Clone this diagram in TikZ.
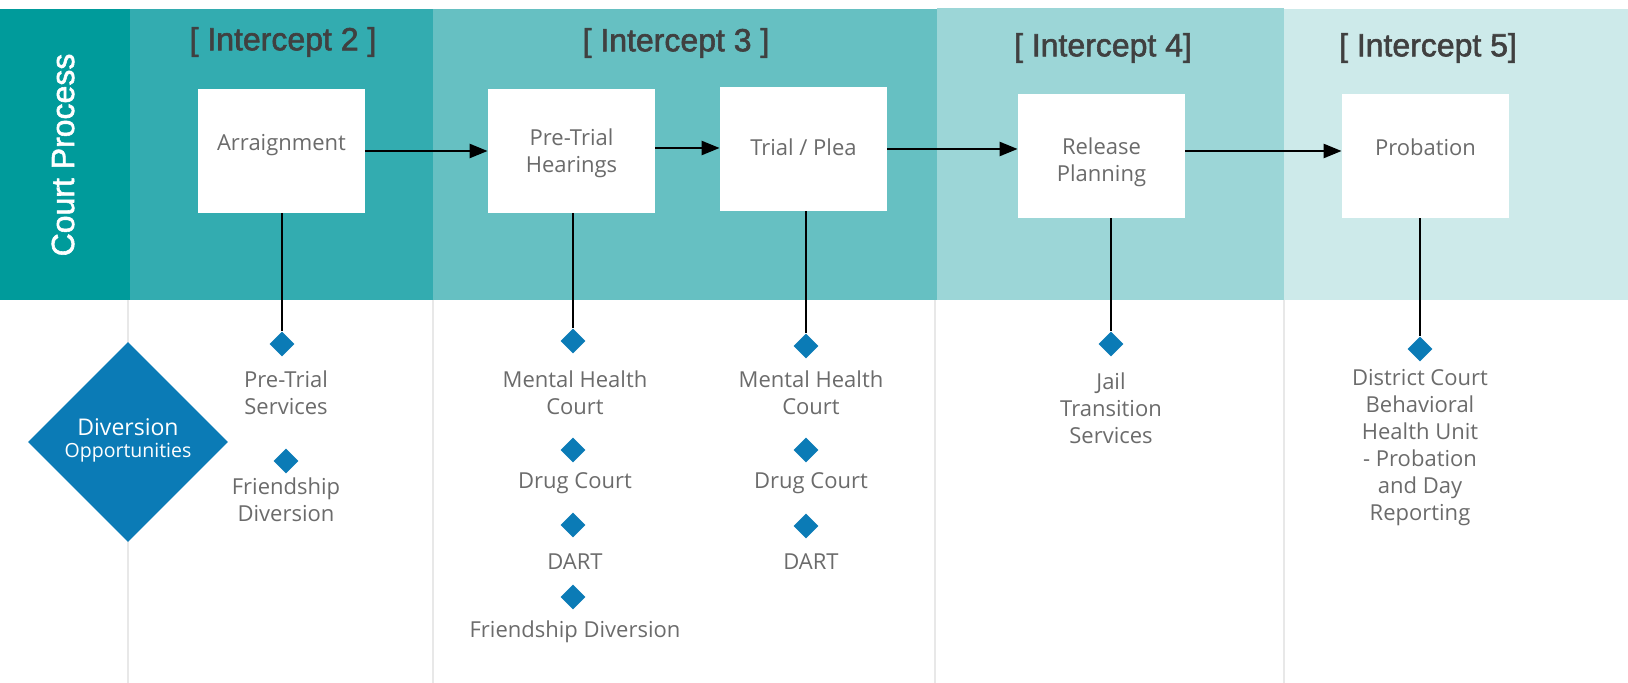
\documentclass[tikz,border=0pt]{standalone}
\usepackage{fontspec}
\setmainfont{Open Sans}
\newfontfamily\headfont[FakeBold=1.8]{Liberation Sans}
\usetikzlibrary{shapes.geometric,arrows.meta}
\def\boxlabel#1#2{\raisebox{#1}[0pt][0pt]{\begin{tabular}{@{}c@{}}#2\end{tabular}}}
\definecolor{courtteal}{HTML}{009B9B}
\definecolor{icptii}{HTML}{33ACB0}
\definecolor{icptiii}{HTML}{66C0C2}
\definecolor{icptiv}{HTML}{9CD6D7}
\definecolor{icptv}{HTML}{CDEAEA}
\definecolor{divblue}{HTML}{0B7BB6}
\definecolor{bodygrey}{HTML}{6B6B6B}
\definecolor{headgrey}{HTML}{404040}
\definecolor{rulegrey}{HTML}{E8E8E8}
\tikzset{
  stagebox/.style={fill=white, minimum width=83.5pt, minimum height=62pt, inner sep=0pt,
    align=center, text=bodygrey, font=\fontsize{11}{13.5}\selectfont},
  pointer/.style={diamond, fill=divblue, minimum width=12.5pt, minimum height=12.5pt, inner sep=0pt},
  itemtext/.style={align=center, text=bodygrey, font=\fontsize{11}{13.5}\selectfont},
  headtext/.style={text=headgrey, font=\headfont\fontsize{16}{18}\selectfont},
  flow/.style={line width=1.2pt, -{Triangle[length=9pt, width=7pt]}},
  stem/.style={line width=1.2pt},
  divider/.style={line width=1pt, rulegrey}
}
\begin{document}
\begin{tikzpicture}[x=0.5pt, y=-0.5pt]
			%%%%% START %%%%%
			\useasboundingbox (0, 0) rectangle (1628, 683);
			
			% colour bands
			\fill[courtteal] (0, 9) rectangle (130, 300);
			\fill[icptii] (130, 9) rectangle (433, 300);
			\fill[icptiii] (433, 9) rectangle (937, 300);
			\fill[icptiv] (937, 8) rectangle (1284, 300);
			\fill[icptv] (1284, 9) rectangle (1628, 300);
			
			\foreach \x in {128, 433, 935, 1284}
				\draw[divider] (\x, 300) -- (\x, 683);
			
			\node[rotate=90, text=white, font=\headfont\fontsize{16}{18}\selectfont] (court) at (63, 155) {Court Process};
			
			\node[headtext] (head2) at (283, 42) {[ Intercept 2 ]};
			\node[headtext] (head3) at (676, 43) {[ Intercept 3 ]};
			\node[headtext] (head4) at (1103, 48) {[ Intercept 4]};
			\node[headtext] (head5) at (1428, 48) {[ Intercept 5]};
			
			% process steps
			\node[stagebox] (arraign) at (281.5, 151) {\boxlabel{0pt}{Arraignment}};
			\node[stagebox] (pretrial) at (571.5, 151) {\boxlabel{-4.2pt}{Pre-Trial\\Hearings}};
			\node[stagebox] (trial) at (803.5, 149) {\boxlabel{-3.2pt}{Trial / Plea}};
			\node[stagebox] (release) at (1101.5, 156) {\boxlabel{-6.2pt}{Release\\Planning}};
			\node[stagebox] (probation) at (1425.5, 156) {\boxlabel{0.3pt}{Probation}};
			
			\draw[flow] (arraign.east) -- (arraign.east -| pretrial.west);
			\draw[flow] ([yshift=1.5pt]pretrial.east) -- ([yshift=1.5pt]pretrial.east -| trial.west);
			\draw[flow] (trial.east) -- (trial.east -| release.west);
			\draw[flow] ([yshift=2.5pt]release.east) -- ([yshift=2.5pt]release.east -| probation.west);
			
			% diversion opportunities
			\node[diamond, fill=divblue, minimum width=100pt, minimum height=100pt, inner sep=0pt,
				text=white, align=center] (divert) at (128, 442)
				{\raisebox{3pt}{\begin{tabular}{@{}c@{}}\fontsize{11.5}{14}\selectfont Diversion\\[-1pt]\fontsize{9.75}{12}\selectfont Opportunities\end{tabular}}};
			
			\node[pointer] (d2a) at (282, 344) {};
			\node[itemtext] (t2a) at (286, 393) {Pre-Trial\\Services};
			\node[pointer] (d2b) at (286, 461) {};
			\node[itemtext] (t2b) at (286, 500) {Friendship\\Diversion};
			
			\node[pointer] (d3a) at (573, 341) {};
			\node[itemtext] (t3a) at (575, 393) {Mental Health\\Court};
			\node[pointer] (d3b) at (573, 450) {};
			\node[itemtext] (t3b) at (575, 483) {Drug Court};
			\node[pointer] (d3c) at (573, 525) {};
			\node[itemtext] (t3c) at (575, 562) {DART};
			\node[pointer] (d3d) at (573, 597) {};
			\node[itemtext] (t3d) at (575, 632) {Friendship Diversion};
			
			\node[pointer] (d3e) at (806, 346) {};
			\node[itemtext] (t3e) at (811, 393) {Mental Health\\Court};
			\node[pointer] (d3f) at (806, 450) {};
			\node[itemtext] (t3f) at (811, 483) {Drug Court};
			\node[pointer] (d3g) at (806, 526) {};
			\node[itemtext] (t3g) at (811, 562) {DART};
			
			\node[pointer] (d4a) at (1111, 344) {};
			\node[itemtext] (t4a) at (1111, 408) {Jail\\Transition\\Services};
			
			\node[pointer] (d5a) at (1420, 349) {};
			\node[itemtext] (t5a) at (1420, 448) {District Court\\Behavioral\\Health Unit\\- Probation\\and Day\\Reporting};
			
			\draw[stem] (arraign.south -| d2a) -- (d2a.north);
			\draw[stem] (pretrial.south -| d3a) -- (d3a.north);
			\draw[stem] (trial.south -| d3e) -- (d3e.north);
			\draw[stem] (release.south -| d4a) -- (d4a.north);
			\draw[stem] (probation.south -| d5a) -- (d5a.north);
			%%%%% END %%%%%
\end{tikzpicture}
\end{document}
